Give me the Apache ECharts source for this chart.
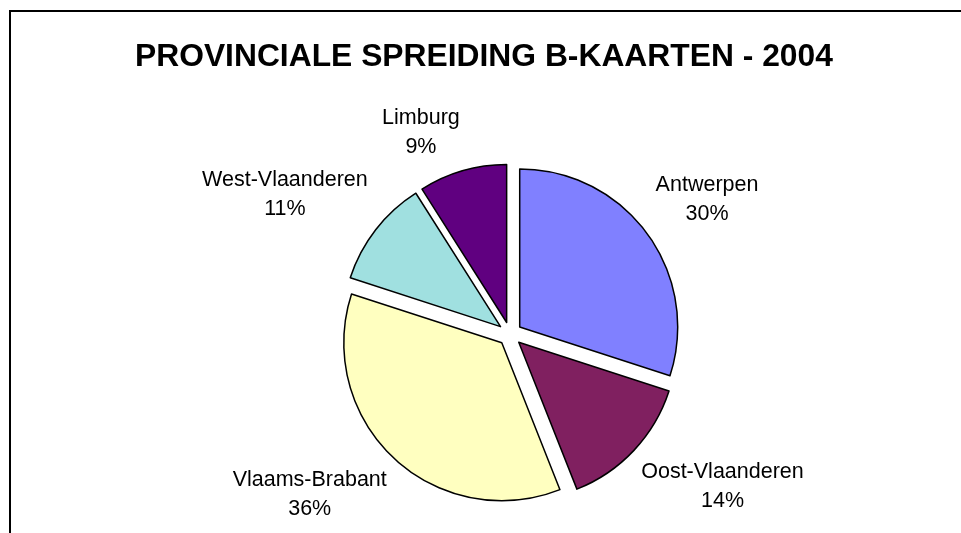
<!DOCTYPE html>
<html>
<head>
<meta charset="utf-8">
<script src="https://cdn.jsdelivr.net/npm/echarts@6/dist/echarts.min.js"></script>
<style>
  html, body { margin: 0; padding: 0; background: #fff; }
  #chart { width: 961px; height: 533px; }
</style>
</head>
<body>
<div id="chart"></div>
<script>
// provincies + aandeel (%)
const provinces = ['Antwerpen', 'Oost-Vlaanderen', 'Vlaams-Brabant', 'West-Vlaanderen', 'Limburg'];
const shares = [30, 14, 36, 11, 9];
const sliceColors = ['#8080FF', '#802060', '#FFFFC0', '#A0E0E0', '#600080'];

const CX = 510, CY = 334, R = 158, OFF = 12, GAP = 10;
const LABEL_FONT = '21.5px "Liberation Sans"', LINE_H = 29;
const total = shares.reduce((a, b) => a + b, 0);

// tekstbreedte meten voor de plaatsing van de labels
const ctx = document.createElement('canvas').getContext('2d');
ctx.font = LABEL_FONT;

// labels zoals in Excel: dichtste hoek van het label net buiten de taartpunt
let labels = [];
let cum = 0;
provinces.forEach((name, i) => {
  let a = (cum + shares[i] / 2) / total * Math.PI * 2;
  cum += shares[i];
  let dx = Math.sin(a), dy = -Math.cos(a);
  let pct = Math.round(shares[i] / total * 100) + '%';
  let w = Math.max(ctx.measureText(name).width, ctx.measureText(pct).width);
  let h = LINE_H * 2;
  let d = OFF + R + GAP;
  labels.push({
    type: 'text',
    silent: true,
    style: {
      text: name + '\n' + pct,
      x: CX + dx * d + Math.sign(dx) * w / 2,
      y: CY + dy * d + Math.sign(dy) * h / 2,
      align: 'center',
      verticalAlign: 'middle',
      font: LABEL_FONT,
      lineHeight: LINE_H,
      fill: '#000'
    }
  });
});

let chart = echarts.init(document.getElementById('chart'));
let option = {
  animation: false,
  title: {
    text: 'PROVINCIALE SPREIDING B-KAARTEN - 2004',
    left: 130,
    top: 36,
    textStyle: {
      fontFamily: 'Liberation Sans',
      fontSize: 31.8,
      fontWeight: 'bold',
      color: '#000'
    }
  },
  graphic: [
    // kader rond de grafiek
    {
      type: 'rect',
      shape: { x: 10, y: 11, width: 1000, height: 600 },
      style: { fill: 'none', stroke: '#000', lineWidth: 2 },
      silent: true
    }
  ].concat(labels),
  series: [{
    type: 'pie',
    center: [CX, CY],
    radius: R,
    startAngle: 90,
    clockwise: true,
    selectedMode: 'multiple',
    selectedOffset: OFF,
    itemStyle: { borderColor: '#000', borderWidth: 1.5 },
    select: { itemStyle: { borderColor: '#000', borderWidth: 1.5 } },
    emphasis: { disabled: true },
    label: { show: false },
    labelLine: { show: false },
    data: provinces.map((name, i) => ({
      name: name,
      value: shares[i],
      selected: true,
      itemStyle: { color: sliceColors[i] }
    }))
  }]
};
chart.setOption(option);
</script>
</body>
</html>
